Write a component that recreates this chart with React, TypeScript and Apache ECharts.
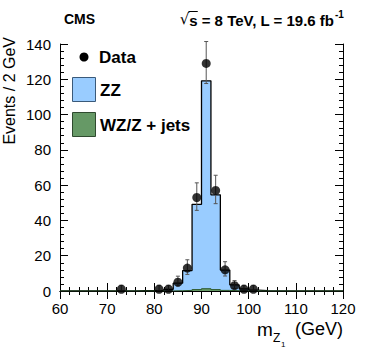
import React, { useEffect, useRef } from "react";
import * as echarts from "echarts";

// Histogram bins (2 GeV wide), left edges
const binLow = [60, 62, 64, 66, 68, 70, 72, 74, 76, 78, 80, 82, 84, 86, 88, 90, 92, 94, 96, 98, 100, 102, 104, 106, 108, 110, 112, 114, 116, 118];
const binHigh = 120;

// ZZ expectation per bin
const zzValues = [0, 0, 0, 0, 0.05, 0.05, 0.1, 0.1, 0.15, 0.2, 0.35, 0.9, 4.3, 11.2, 48.3, 117.8, 53.7, 11.5, 3.3, 1.1, 0.45, 0.2, 0.1, 0.08, 0.05, 0.04, 0.03, 0.02, 0.02, 0.01];
// WZ/Z + jets expectation per bin
const wzValues = [0, 0, 0, 0, 0, 0, 0, 0, 0, 0, 0.02, 0.05, 0.15, 0.35, 0.8, 1.3, 0.8, 0.35, 0.15, 0.05, 0.02, 0, 0, 0, 0, 0, 0, 0, 0, 0];

// Observed data
const dataX = [73, 81, 83, 85, 87, 89, 91, 93, 95, 97, 99, 101];
const dataY = [1, 1, 1, 5, 13, 53, 129, 57, 12, 3, 1, 1];
const errLow = [0.8, 0.8, 0.8, 2.2, 3.6, 7.3, 11.4, 7.5, 3.5, 1.6, 0.8, 0.8];
const errHigh = [2.3, 2.3, 2.3, 3.4, 4.7, 8.3, 12.4, 8.6, 4.6, 2.9, 2.3, 2.3];

const legendLabels = ["Data", "ZZ", "WZ/Z + jets"];

const FONT = "Liberation Sans, Arial, Helvetica, sans-serif";
const BLUE = "#99ccff";
const GREEN = "#669966";

function measure(text: string, font: string): number {
  const c = document.createElement("canvas").getContext("2d");
  if (!c) return text.length * 8;
  c.font = font;
  return c.measureText(text).width;
}

export default function App() {
  const ref = useRef<HTMLDivElement>(null);
  useEffect(() => {
    if (!ref.current) return;
    const chart = echarts.init(ref.current, null, { renderer: "svg" });
    const total = zzValues.map((v, i) => v + wzValues[i]);
    const step = (vals: number[]) => [
      ...binLow.map((x, i) => [x, vals[i]]),
      [binHigh, vals[vals.length - 1]],
    ];
    const axisCommon = {
      axisLine: { show: true, lineStyle: { color: "#000", width: 1 } },
      axisTick: { show: true, inside: true, length: 8, lineStyle: { color: "#000" } },
      minorTick: { show: true, splitNumber: 5, length: 4, lineStyle: { color: "#000" } },
      splitLine: { show: false },
      minorSplitLine: { show: false },
    };

    const hdrFont = `bold 15px ${FONT}`;
    const hdrText = "s = 8 TeV, L = 19.6 fb";
    const hdrRight = 334;
    const hdrW = measure(hdrText, hdrFont);
    const sX = hdrRight - hdrW;
    const sW = measure("s", hdrFont);

    const option: any = {
      animation: false,
      grid: { left: 60, right: 31, top: 44, bottom: 60 },
      xAxis: [
        {
          type: "value", min: 60, max: 120, interval: 10, position: "bottom",
          ...axisCommon,
          axisLabel: { fontFamily: FONT, fontSize: 15, color: "#000", margin: 10 },
        },
        {
          type: "value", min: 60, max: 120, interval: 10, position: "top",
          ...axisCommon,
          axisLabel: { show: false },
        },
      ],
      yAxis: [
        {
          type: "value", min: 0, max: 140, interval: 20, position: "left",
          ...axisCommon,
          axisLabel: { fontFamily: FONT, fontSize: 15, color: "#000", margin: 9 },
        },
        {
          type: "value", min: 0, max: 140, interval: 20, position: "right",
          ...axisCommon,
          axisLabel: { show: false },
        },
      ],
      series: [
        {
          type: "line", name: "ZZ", step: "end", data: step(total), symbol: "none",
          lineStyle: { color: "#000", width: 1.3 },
          areaStyle: { color: BLUE, opacity: 1 }, z: 2,
        },
        {
          type: "line", name: "WZ/Z + jets", step: "end", data: step(wzValues), symbol: "none",
          lineStyle: { color: "#2f5a2f", width: 1 },
          areaStyle: { color: GREEN, opacity: 1 }, z: 3,
        },
        {
          type: "custom", name: "err", z: 4,
          data: dataX.map((x, i) => [x, dataY[i], errLow[i], errHigh[i]]),
          encode: { x: 0, y: 1 },
          renderItem: (params: any, api: any) => {
            const x = api.value(0), y = api.value(1), lo = api.value(2), hi = api.value(3);
            const p1 = api.coord([x, y - lo]);
            const p2 = api.coord([x, y + hi]);
            const st = { stroke: "#555", lineWidth: 1 };
            return {
              type: "group",
              children: [
                { type: "line", shape: { x1: p1[0], y1: p1[1], x2: p2[0], y2: p2[1] }, style: st },
                { type: "line", shape: { x1: p1[0] - 2, y1: p1[1], x2: p1[0] + 2, y2: p1[1] }, style: st },
                { type: "line", shape: { x1: p2[0] - 2, y1: p2[1], x2: p2[0] + 2, y2: p2[1] }, style: st },
              ],
            };
          },
        },
        {
          type: "scatter", name: "Data", z: 5,
          data: dataX.map((x, i) => [x, dataY[i]]),
          symbol: "circle", symbolSize: 9,
          itemStyle: { color: "#000" },
        },
      ],
      graphic: [
        { type: "text", left: 64, top: 12, style: { text: "CMS", font: `bold 14px ${FONT}`, fill: "#000" } },
        { type: "text", x: hdrRight, y: 20, style: { text: hdrText, font: hdrFont, fill: "#000", align: "right", verticalAlign: "middle" } },
        { type: "text", x: sX + 0.5, y: 19, style: { text: "\u221A", font: `15px DejaVu Sans, ${FONT}`, fill: "#000", align: "right", verticalAlign: "middle" } },
        { type: "line", shape: { x1: sX - 0.5, y1: 11.5, x2: sX + sW + 0.5, y2: 11.5 }, style: { stroke: "#000", lineWidth: 1 } },
        { type: "text", x: hdrRight + 1, y: 14, style: { text: "-1", font: `bold 10px ${FONT}`, fill: "#000", align: "left", verticalAlign: "middle" } },
        // legend
        { type: "circle", shape: { cx: 84, cy: 57, r: 4.5 }, style: { fill: "#000" } },
        { type: "text", x: 99, y: 57, style: { text: legendLabels[0], font: `bold 17px ${FONT}`, fill: "#000", verticalAlign: "middle" } },
        { type: "rect", shape: { x: 72.5, y: 77.5, width: 23, height: 24 }, style: { fill: BLUE, stroke: "#3a5a7a", lineWidth: 1 } },
        { type: "text", x: 100, y: 90, style: { text: legendLabels[1], font: `bold 17px ${FONT}`, fill: "#000", verticalAlign: "middle" } },
        { type: "rect", shape: { x: 72.5, y: 112.5, width: 23, height: 24 }, style: { fill: GREEN, stroke: "#2f4a2f", lineWidth: 1 } },
        { type: "text", x: 100, y: 125, style: { text: legendLabels[2], font: `bold 17px ${FONT}`, fill: "#000", verticalAlign: "middle" } },
        // axis titles
        { type: "text", x: 9, y: 37, rotation: Math.PI / 2, style: { text: "Events / 2 GeV", font: `16px ${FONT}`, fill: "#000", align: "right", verticalAlign: "middle" } },
        { type: "text", x: 343, y: 329, style: { text: "(GeV)", font: `18px ${FONT}`, fill: "#000", align: "right", verticalAlign: "middle" } },
        { type: "text", x: 257, y: 329, style: { text: "m", font: `19px ${FONT}`, fill: "#000", align: "left", verticalAlign: "middle" } },
        { type: "text", x: 273, y: 338, style: { text: "Z", font: `12px ${FONT}`, fill: "#000", align: "left", verticalAlign: "middle" } },
        { type: "text", x: 281, y: 344, style: { text: "1", font: `8px ${FONT}`, fill: "#000", align: "left", verticalAlign: "middle" } },
      ],
    };
    chart.setOption(option);
    return () => chart.dispose();
  }, []);
  return <div ref={ref} style={{ width: 374, height: 351, position: "absolute", left: 0, top: 0 }} />;
}
